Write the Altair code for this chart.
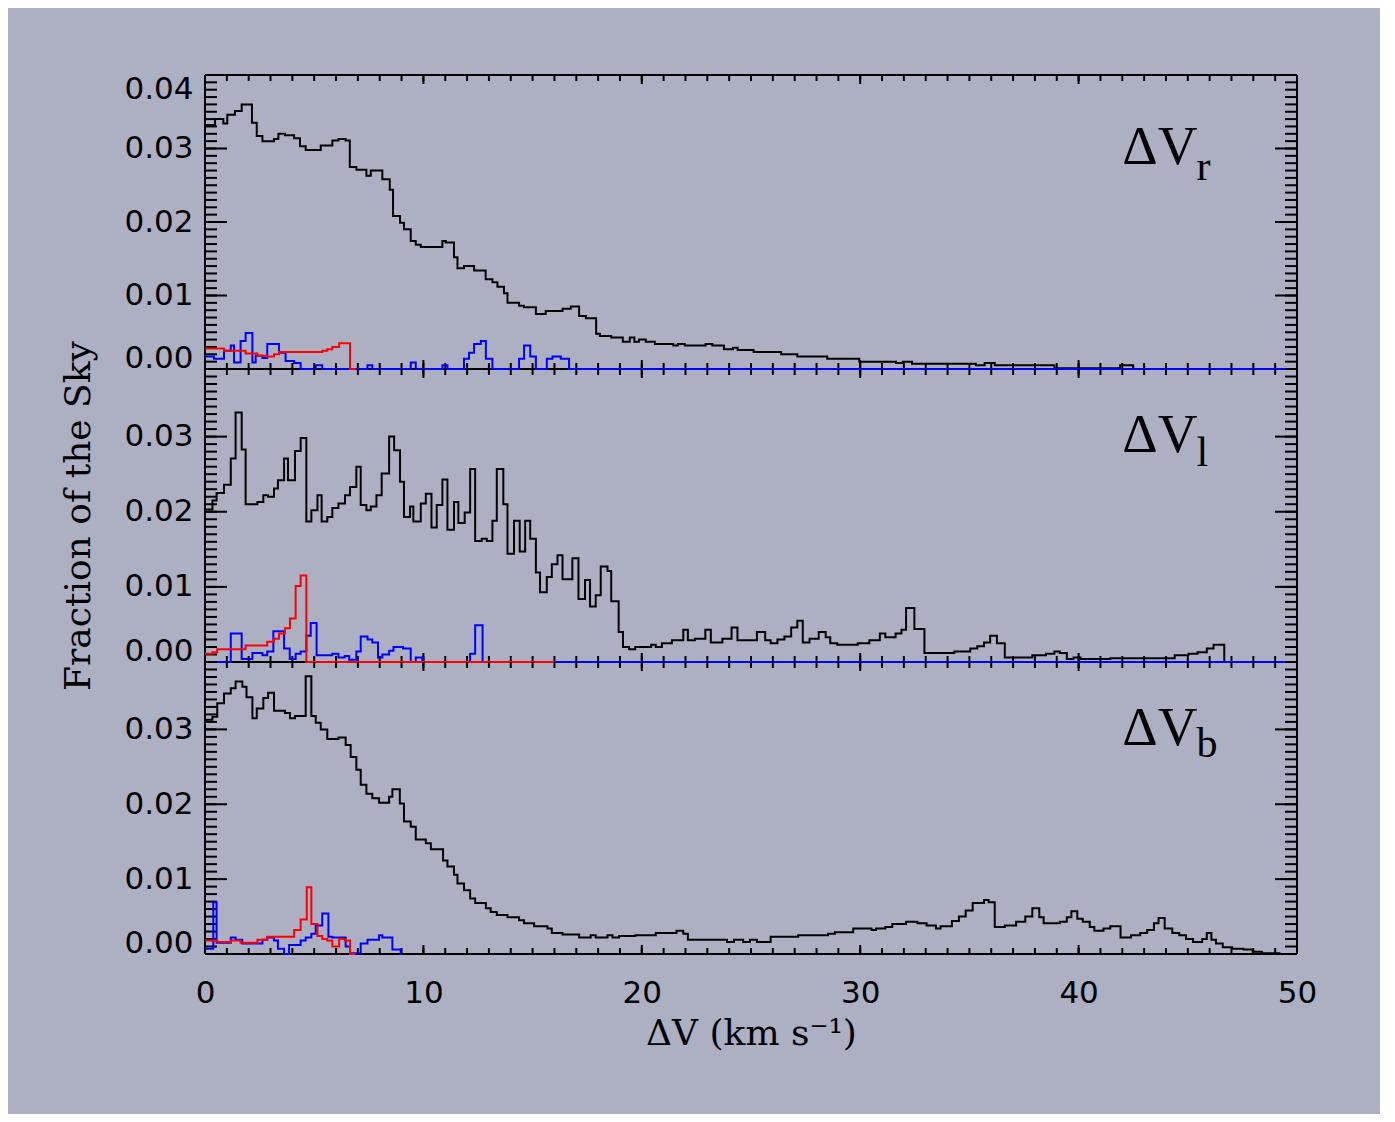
import altair as alt
import pandas as pd

BG = "#adb0c3"

# ---------------- tick positions ----------------
x_major = [0, 10, 20, 30, 40, 50]
x_minor = list(range(0, 51))
y_major_top = [0.0, 0.01, 0.02, 0.03, 0.04]
y_major_low = [0.0, 0.01, 0.02, 0.03]
y_minor_top = [i / 1000 for i in range(0, 41)]
y_minor_low = [i / 1000 for i in range(0, 40)]

# ---------------- panel ΔV_r (top) ----------------
r_black_x = [0.00, 0.46, 0.84, 1.02, 1.37, 1.68, 2.15, 2.37, 2.63, 3.16, 3.36, 3.66, 4.08, 4.35, 4.61,
             5.30, 5.83, 6.11, 6.44, 6.63, 6.93, 7.39, 7.59, 8.12, 8.46, 8.61, 8.93, 9.11, 9.42, 9.65,
             9.88, 10.87, 11.02, 11.40, 11.56, 11.86, 12.32, 12.85, 13.16, 13.39, 13.69, 13.85, 14.38,
             14.60, 15.15, 15.60, 16.37, 16.75, 17.13, 17.44, 17.91, 18.08, 18.60, 19.13, 19.45, 19.66,
             19.87, 20.18, 20.60, 21.44, 21.65, 21.97, 22.92, 23.23, 23.76, 24.18, 24.39, 25.12, 26.38,
             27.12, 28.49, 29.96, 31.64, 31.95, 32.37, 35.30, 35.70, 36.16, 38.89, 41.90, 42.50]
r_black_y = [0.0332, 0.0340, 0.0334, 0.0346, 0.0351, 0.0360, 0.0335, 0.0317, 0.0310, 0.0313, 0.0320,
             0.0318, 0.0314, 0.0303, 0.0298, 0.0304, 0.0311, 0.0313, 0.0311, 0.0275, 0.0271, 0.0263,
             0.0270, 0.0258, 0.0244, 0.0208, 0.0199, 0.0190, 0.0174, 0.0169, 0.0166, 0.0174, 0.0172,
             0.0152, 0.0137, 0.0140, 0.0134, 0.0122, 0.0118, 0.0112, 0.0103, 0.0090, 0.0086, 0.0084,
             0.0075, 0.0079, 0.0082, 0.0085, 0.0072, 0.0069, 0.0048, 0.0045, 0.0043, 0.0037, 0.0043,
             0.0037, 0.0040, 0.0037, 0.0034, 0.0032, 0.0034, 0.0032, 0.0034, 0.0032, 0.0027, 0.0029,
             0.0026, 0.0023, 0.0020, 0.0017, 0.0014, 0.0010, 0.0008, 0.0010, 0.0007, 0.0005, 0.0008,
             0.0005, 0.0001, 0.0005, 0.0000]
r_black_end = 50.0

r_red_x = [0.00, 0.87, 1.86, 2.40, 2.85, 3.16, 3.39, 5.37, 5.60, 5.83, 6.14, 6.64]
r_red_y = [0.0028, 0.0025, 0.0021, 0.0018, 0.0017, 0.0020, 0.0023, 0.0025, 0.0027, 0.0030, 0.0035, 0.0]
r_red_end = 6.9

r_blue_x = [0.00, 0.41, 0.87, 1.18, 1.33, 1.63, 1.86, 2.17, 2.32, 2.63, 2.85, 3.39, 3.69, 4.08, 4.38,
            5.07, 5.37, 7.44, 7.66, 9.42, 9.65, 10.87, 11.10, 11.86, 12.09, 12.32, 12.63, 12.86, 13.16,
            14.38, 14.61, 14.89, 15.15, 15.65, 15.91, 16.29, 16.67]
r_blue_y = [0.0017, 0.0014, 0.0025, 0.0032, 0.0009, 0.0038, 0.0049, 0.0009, 0.0018, 0.0015, 0.0034,
            0.0022, 0.0011, 0.0008, 0.0, 0.0005, 0.0, 0.0005, 0.0, 0.0009, 0.0, 0.0005, 0.0, 0.0014,
            0.0022, 0.0034, 0.0038, 0.0014, 0.0, 0.0014, 0.0032, 0.0017, 0.0, 0.0014, 0.0017, 0.0014, 0.0]
r_blue_end = 50.0

# ---------------- panel ΔV_l (middle) ----------------
l_black_x = [0.00, 0.34, 0.53, 0.87, 1.18, 1.40, 1.68, 1.86, 2.40, 2.67, 2.89, 3.16, 3.34, 3.62, 3.80,
             4.12, 4.38, 4.64, 4.87, 5.15, 5.34, 5.60, 5.83, 6.11, 6.41, 6.64, 6.93, 7.13, 7.39, 7.59,
             7.85, 8.09, 8.43, 8.66, 8.93, 9.11, 9.39, 9.54, 9.88, 10.11, 10.37, 10.61, 10.87, 11.10,
             11.40, 11.60, 11.89, 12.14, 12.37, 12.67, 12.90, 13.16, 13.36, 13.66, 13.85, 14.15, 14.41,
             14.66, 14.89, 15.15, 15.34, 15.65, 15.88, 16.14, 16.37, 16.82, 17.10, 17.40, 17.63, 17.89,
             18.12, 18.43, 18.60, 18.94, 19.14, 19.42, 19.70, 20.43, 20.64, 20.92, 21.38, 21.90, 22.11,
             22.43, 22.91, 23.16, 23.69, 24.11, 24.38, 25.27, 25.65, 25.90, 26.21, 26.53, 26.84, 27.12,
             27.37, 27.68, 28.10, 28.42, 28.63, 28.95, 29.89, 30.42, 30.90, 31.15, 31.62, 31.89, 32.10,
             32.48, 32.94, 34.31, 35.04, 35.36, 35.67, 35.95, 36.26, 36.62, 37.88, 38.51, 38.89, 39.14,
             39.46, 39.77, 40.09, 41.45, 44.40, 45.03, 45.45, 45.87, 46.18, 46.67]
l_black_y = [0.0203, 0.0215, 0.0225, 0.0236, 0.0271, 0.0332, 0.0283, 0.0210, 0.0213, 0.0222, 0.0220,
             0.0231, 0.0242, 0.0271, 0.0242, 0.0281, 0.0298, 0.0187, 0.0202, 0.0222, 0.0187, 0.0193,
             0.0205, 0.0211, 0.0222, 0.0233, 0.0260, 0.0209, 0.0202, 0.0207, 0.0222, 0.0251, 0.0300,
             0.0282, 0.0240, 0.0193, 0.0207, 0.0187, 0.0211, 0.0224, 0.0179, 0.0209, 0.0243, 0.0176,
             0.0213, 0.0185, 0.0199, 0.0257, 0.0161, 0.0164, 0.0161, 0.0188, 0.0257, 0.0210, 0.0144,
             0.0188, 0.0147, 0.0188, 0.0164, 0.0119, 0.0093, 0.0113, 0.0130, 0.0142, 0.0110, 0.0138,
             0.0084, 0.0109, 0.0074, 0.0089, 0.0127, 0.0121, 0.0081, 0.0040, 0.0020, 0.0017, 0.0020,
             0.0023, 0.0020, 0.0025, 0.0029, 0.0043, 0.0029, 0.0031, 0.0043, 0.0026, 0.0031, 0.0046,
             0.0029, 0.0040, 0.0029, 0.0025, 0.0030, 0.0034, 0.0046, 0.0055, 0.0026, 0.0031, 0.0040,
             0.0033, 0.0025, 0.0023, 0.0025, 0.0029, 0.0038, 0.0033, 0.0038, 0.0043, 0.0072, 0.0044,
             0.0012, 0.0014, 0.0018, 0.0021, 0.0026, 0.0035, 0.0025, 0.0006, 0.0009, 0.0011, 0.0014,
             0.0012, 0.0004, 0.0006, 0.0004, 0.0005, 0.0009, 0.0011, 0.0013, 0.0018, 0.0023, 0.0]
l_black_end = 50.0

l_red_x = [0.00, 0.34, 0.56, 1.86, 2.85, 3.16, 3.39, 3.66, 3.89, 4.15, 4.38, 4.64]
l_red_y = [0.0011, 0.0013, 0.0017, 0.0022, 0.0027, 0.0031, 0.0038, 0.0045, 0.0058, 0.0101, 0.0115, 0.0]
l_red_end = 16.0

l_blue_x = [0.00, 1.18, 1.68, 2.17, 2.63, 2.85, 3.13, 3.62, 3.88, 4.15, 4.38, 4.64, 4.84, 5.11, 5.83,
            6.11, 6.40, 6.60, 6.93, 7.13, 7.44, 7.66, 7.92, 8.12, 8.43, 8.63, 9.07, 9.42, 9.65, 9.95,
            12.14, 12.37, 12.71]
l_blue_y = [0.0, 0.0038, 0.0004, 0.0012, 0.0009, 0.0014, 0.0041, 0.0018, 0.0004, 0.0011, 0.0014,
            0.0035, 0.0052, 0.0009, 0.0011, 0.0006, 0.0008, 0.0003, 0.0014, 0.0034, 0.0030, 0.0026,
            0.0006, 0.0010, 0.0015, 0.0020, 0.0018, 0.0, 0.0006, 0.0, 0.0011, 0.0049, 0.0]
l_blue_end = 50.0

# ---------------- panel ΔV_b (bottom) ----------------
b_black_x = [0.00, 0.34, 0.56, 0.87, 1.18, 1.40, 1.71, 1.90, 2.17, 2.37, 2.67, 2.89, 3.16, 3.66, 3.89,
             4.12, 4.61, 4.87, 5.07, 5.30, 5.60, 6.11, 6.44, 6.67, 6.93, 7.13, 7.39, 7.66, 7.97, 8.43,
             8.58, 8.92, 9.11, 9.42, 9.65, 10.11, 10.34, 10.90, 11.10, 11.40, 11.56, 11.86, 12.14, 12.37,
             12.86, 13.08, 13.36, 13.85, 14.38, 14.61, 15.07, 15.68, 15.88, 16.37, 17.13, 17.66, 17.89,
             18.43, 18.66, 18.96, 19.70, 20.64, 21.59, 21.90, 22.11, 23.90, 24.22, 24.64, 24.95, 25.27,
             25.90, 27.16, 28.53, 28.84, 29.68, 30.52, 30.73, 31.15, 31.47, 32.10, 32.62, 33.04, 33.47,
             33.68, 34.20, 34.52, 34.83, 35.15, 35.67, 35.88, 36.16, 36.62, 37.14, 37.56, 37.88, 38.20,
             38.40, 39.14, 39.46, 39.67, 39.94, 40.19, 40.51, 40.72, 41.14, 41.45, 41.92, 42.40, 42.82,
             43.14, 43.45, 43.66, 43.94, 44.29, 44.61, 44.92, 45.24, 45.66, 45.87, 46.08, 46.29, 46.60,
             47.03, 47.55, 47.97, 48.39, 49.20]
b_black_y = [0.0313, 0.0317, 0.0335, 0.0348, 0.0355, 0.0364, 0.0357, 0.0343, 0.0315, 0.0328, 0.0342,
             0.0349, 0.0325, 0.0322, 0.0315, 0.0318, 0.0371, 0.0318, 0.0309, 0.0300, 0.0287, 0.0289,
             0.0279, 0.0263, 0.0246, 0.0226, 0.0214, 0.0208, 0.0202, 0.0210, 0.0220, 0.0201, 0.0177,
             0.0170, 0.0153, 0.0148, 0.0140, 0.0125, 0.0117, 0.0106, 0.0094, 0.0085, 0.0074, 0.0068,
             0.0061, 0.0056, 0.0052, 0.0049, 0.0045, 0.0041, 0.0037, 0.0034, 0.0028, 0.0026, 0.0022,
             0.0025, 0.0022, 0.0025, 0.0022, 0.0024, 0.0025, 0.0028, 0.0031, 0.0027, 0.0019, 0.0016,
             0.0019, 0.0016, 0.0019, 0.0016, 0.0023, 0.0025, 0.0027, 0.0029, 0.0034, 0.0032, 0.0034,
             0.0036, 0.0040, 0.0043, 0.0041, 0.0038, 0.0034, 0.0037, 0.0044, 0.0050, 0.0058, 0.0068,
             0.0072, 0.0069, 0.0036, 0.0038, 0.0043, 0.0050, 0.0061, 0.0049, 0.0041, 0.0043, 0.0049,
             0.0057, 0.0047, 0.0043, 0.0036, 0.0031, 0.0034, 0.0037, 0.0022, 0.0025, 0.0028, 0.0032,
             0.0041, 0.0048, 0.0034, 0.0028, 0.0025, 0.0020, 0.0016, 0.0020, 0.0028, 0.0019, 0.0014,
             0.0009, 0.0007, 0.0006, 0.0003, 0.0001, 0.0]
b_black_end = 50.0

b_red_x = [0.00, 0.56, 1.18, 1.63, 2.40, 2.85, 4.08, 4.38, 4.66, 4.87, 5.15, 5.37, 5.60, 5.83, 6.14,
           6.40, 6.64]
b_red_y = [0.0018, 0.0016, 0.0018, 0.0015, 0.0019, 0.0023, 0.0032, 0.0046, 0.0089, 0.0040, 0.0024,
           0.0020, 0.0018, 0.0010, 0.0020, 0.0018, 0.0]
b_red_end = 6.9

b_blue_x = [0.00, 0.38, 0.53, 1.18, 1.40, 1.71, 2.63, 2.85, 3.16, 3.34, 3.62, 3.85, 4.38, 4.61, 4.87,
            5.07, 5.37, 5.65, 5.83, 6.44, 6.64, 7.13, 7.44, 7.97, 8.12, 8.58, 8.96]
b_blue_y = [0.0007, 0.0069, 0.0015, 0.0022, 0.0019, 0.0014, 0.0019, 0.0022, 0.0018, 0.0007, 0.0,
            0.0012, 0.0018, 0.0022, 0.0027, 0.0038, 0.0054, 0.0023, 0.0022, 0.0010, 0.0001, 0.0014,
            0.0019, 0.0025, 0.0022, 0.0006, 0.0]
b_blue_end = 9.0

# panel labels (ΔV with subscripts)
label_main = ["ΔV", "ΔV", "ΔV"]
label_sub = ["r", "l", "b"]
label_x_main = 42.0
label_y_main = 0.0279
label_x_sub = 45.4
label_y_sub = [0.0257, 0.0261, 0.0263]

W = 1092
HEIGHTS = [294, 293, 292]
YMAX = [0.04, 0.039, 0.039]

TICK_FONT = "DejaVu Sans"
TITLE_FONT = "DejaVu Serif"


def steps(xs, ys, x_end):
    rows = [{"x": x, "y": y, "i": k} for k, (x, y) in enumerate(zip(xs, ys))]
    rows.append({"x": x_end, "y": ys[-1], "i": len(xs)})
    return pd.DataFrame(rows)


def make_panel(idx, black, blue, red, y_major, y_minor, bottom, ytitle):
    H = HEIGHTS[idx]
    xs = alt.Scale(domain=[0, 50], nice=False, zero=False)
    ys = alt.Scale(domain=[0, YMAX[idx]], nice=False, zero=False)

    ykw = dict(
        values=y_major, format=".2f", ticks=False, domain=False, grid=False,
        labelFont=TICK_FONT, labelFontSize=31, labelColor="black", labelPadding=12,
        labelOverlap=False,
        labelOffset={"condition": [{"test": "datum.value == 0", "value": -11},
                                   {"test": "datum.value > 0.0395", "value": 14}],
                     "value": 0},
    )
    if ytitle:
        ykw.update(title=ytitle, titleFont=TITLE_FONT, titleFontSize=36, titleFontWeight="normal",
                   titleColor="black", titlePadding=26)
    else:
        ykw.update(title=None)
    yaxis = alt.Axis(**ykw)

    if bottom:
        xaxis = alt.Axis(
            values=x_major, format="d", ticks=False, domain=False, grid=False,
            labelFont=TICK_FONT, labelFontSize=31, labelColor="black", labelPadding=24,
            labelFlush=False, labelOverlap=False,
            title="ΔV (km s⁻¹)", titleFont=TITLE_FONT, titleFontSize=36,
            titleFontWeight="normal", titleColor="black", titlePadding=8,
        )
        x_other = alt.Undefined
    else:
        xaxis = None
        x_other = None

    def X():
        return alt.X("x:Q", scale=xs, axis=x_other)

    def Y():
        return alt.Y("y:Q", scale=ys)

    layers = []
    # black histogram carries the axes
    layers.append(
        alt.Chart(steps(*black)).mark_line(interpolate="step-after", color="black", strokeWidth=2)
        .encode(x=alt.X("x:Q", scale=xs, axis=xaxis), y=alt.Y("y:Q", scale=ys, axis=yaxis),
                order="i:Q")
    )

    # plot frame (drawn under the coloured histograms); shared borders drawn once by the upper panel
    one = pd.DataFrame({"k": [0]})
    frame = alt.Chart(one).mark_rule(color="black", strokeWidth=2)
    if idx == 0:
        layers.append(frame.encode(x=alt.value(0), x2=alt.value(W), y=alt.value(0)))
    layers.append(frame.encode(x=alt.value(0), x2=alt.value(W), y=alt.value(H)))
    layers.append(frame.encode(x=alt.value(0), y=alt.value(0), y2=alt.value(H)))
    layers.append(frame.encode(x=alt.value(W), y=alt.value(0), y2=alt.value(H)))

    # inward ticks
    xmin_df = pd.DataFrame({"x": x_minor})
    xmaj_df = pd.DataFrame({"x": x_major})
    ymin_df = pd.DataFrame({"y": y_minor})
    ymaj_df = pd.DataFrame({"y": y_major})
    for df, ln in ((xmin_df, 6), (xmaj_df, 9)):
        layers.append(alt.Chart(df).mark_rule(color="black", strokeWidth=2).encode(
            x=X(), y=alt.value(H), y2=alt.value(H - ln)))
        layers.append(alt.Chart(df).mark_rule(color="black", strokeWidth=2).encode(
            x=X(), y=alt.value(0), y2=alt.value(ln)))
    for df, ln in ((ymin_df, 12), (ymaj_df, 22)):
        layers.append(alt.Chart(df).mark_rule(color="black", strokeWidth=2).encode(
            y=Y(), x=alt.value(0), x2=alt.value(ln)))
        layers.append(alt.Chart(df).mark_rule(color="black", strokeWidth=2).encode(
            y=Y(), x=alt.value(W), x2=alt.value(W - ln)))

    # coloured histograms on top of the frame
    for ser, col in ((blue, "#0000ff"), (red, "#ff0000")):
        layers.append(
            alt.Chart(steps(*ser)).mark_line(interpolate="step-after", color=col, strokeWidth=2)
            .encode(x=X(), y=Y(), order="i:Q")
        )

    # panel label
    lab_main = pd.DataFrame({"x": [label_x_main], "y": [label_y_main], "t": [label_main[idx]]})
    lab_sub = pd.DataFrame({"x": [label_x_sub], "y": [label_y_sub[idx]], "t": [label_sub[idx]]})
    layers.append(alt.Chart(lab_main).mark_text(
        align="left", baseline="alphabetic", font="Liberation Serif", fontSize=55, color="black"
    ).encode(x=X(), y=Y(), text="t:N"))
    layers.append(alt.Chart(lab_sub).mark_text(
        align="left", baseline="alphabetic", font="Liberation Serif", fontSize=42, color="black"
    ).encode(x=X(), y=Y(), text="t:N"))

    return alt.layer(*layers).properties(width=W, height=H)


top = make_panel(0, (r_black_x, r_black_y, r_black_end), (r_blue_x, r_blue_y, r_blue_end),
                 (r_red_x, r_red_y, r_red_end), y_major_top, y_minor_top, False, None)
mid = make_panel(1, (l_black_x, l_black_y, l_black_end), (l_blue_x, l_blue_y, l_blue_end),
                 (l_red_x, l_red_y, l_red_end), y_major_low, y_minor_low, False, "Fraction of the Sky")
bot = make_panel(2, (b_black_x, b_black_y, b_black_end), (b_blue_x, b_blue_y, b_blue_end),
                 (b_red_x, b_red_y, b_red_end), y_major_low, y_minor_low, True, None)

chart = (
    alt.vconcat(top, mid, bot, spacing=0, bounds="flush")
    .properties(background=BG, padding={"left": 52, "top": 65, "right": 63, "bottom": 63})
    .configure_view(stroke="transparent", strokeWidth=0)
)

chart.save("out.html", embed_options={"renderer": "svg", "actions": False})
